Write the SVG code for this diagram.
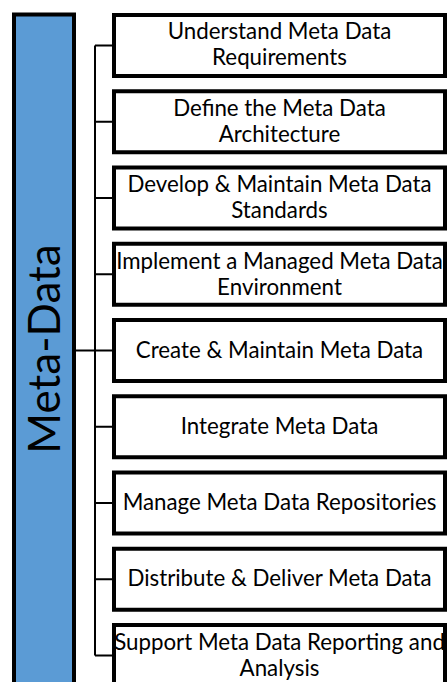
<svg xmlns="http://www.w3.org/2000/svg" width="447" height="682" viewBox="0 0 447 682">
  <style>
    .bg { fill: #ffffff; }
    .root { fill: #5b9bd5; stroke: #000000; stroke-width: 4; }
    .box { fill: #ffffff; stroke: #000000; stroke-width: 4; }
    .wire { fill: none; stroke: #000000; stroke-width: 2; }
    .title { font-family: Lato, "Open Sans", sans-serif; font-size: 44px; fill: #000000; }
    .label { font-family: Lato, "Open Sans", sans-serif; font-size: 22.3px; fill: #000000; text-anchor: middle; }
  </style>
  <rect class="bg" x="0" y="0" width="447" height="682"/>

  <!-- root: vertical bar with rotated title -->
  <g id="meta-data">
    <rect class="root" x="14" y="14.5" width="60" height="700"/>
    <text class="title" text-anchor="middle" transform="translate(60 349) rotate(-90)">Meta-Data</text>
  </g>

  <!-- connectors: trunk, spine and one stub per activity -->
  <g id="connectors">
    <path class="wire" d="M76 350.5 H95"/>
    <path class="wire" d="M95 45.5 V655.5"/>
    <path class="wire" d="M95 45.5 H112 M95 121.75 H112 M95 198 H112 M95 274.25 H112 M95 350.5 H112 M95 426.75 H112 M95 503 H112 M95 579.25 H112 M95 655.5 H112"/>
  </g>

  <g id="understand-requirements">
    <rect class="box" x="114" y="15" width="331" height="61"/>
    <text class="label" x="279.5" y="39">Understand Meta Data</text>
    <text class="label" x="279.5" y="65">Requirements</text>
  </g>
  <g id="define-architecture">
    <rect class="box" x="114" y="91.25" width="331" height="61"/>
    <text class="label" x="279.5" y="115.5">Define the Meta Data</text>
    <text class="label" x="279.5" y="141.5">Architecture</text>
  </g>
  <g id="develop-standards">
    <rect class="box" x="114" y="167.5" width="331" height="61"/>
    <text class="label" x="279.5" y="192">Develop &amp; Maintain Meta Data</text>
    <text class="label" x="279.5" y="218">Standards</text>
  </g>
  <g id="implement-environment">
    <rect class="box" x="114" y="243.75" width="331" height="61"/>
    <text class="label" x="279.5" y="268.5">Implement a Managed Meta Data</text>
    <text class="label" x="279.5" y="294.5">Environment</text>
  </g>
  <g id="create-maintain">
    <rect class="box" x="114" y="320" width="331" height="61"/>
    <text class="label" x="279.5" y="357.5">Create &amp; Maintain Meta Data</text>
  </g>
  <g id="integrate">
    <rect class="box" x="114" y="396.25" width="331" height="61"/>
    <text class="label" x="279.5" y="433.75">Integrate Meta Data</text>
  </g>
  <g id="manage-repositories">
    <rect class="box" x="114" y="472.5" width="331" height="61"/>
    <text class="label" x="279.5" y="510">Manage Meta Data Repositories</text>
  </g>
  <g id="distribute-deliver">
    <rect class="box" x="114" y="548.75" width="331" height="61"/>
    <text class="label" x="279.5" y="586.25">Distribute &amp; Deliver Meta Data</text>
  </g>
  <g id="support-reporting">
    <rect class="box" x="114" y="625" width="331" height="61"/>
    <text class="label" x="279.5" y="649.5">Support Meta Data Reporting and</text>
    <text class="label" x="279.5" y="675.5">Analysis</text>
  </g>
</svg>
